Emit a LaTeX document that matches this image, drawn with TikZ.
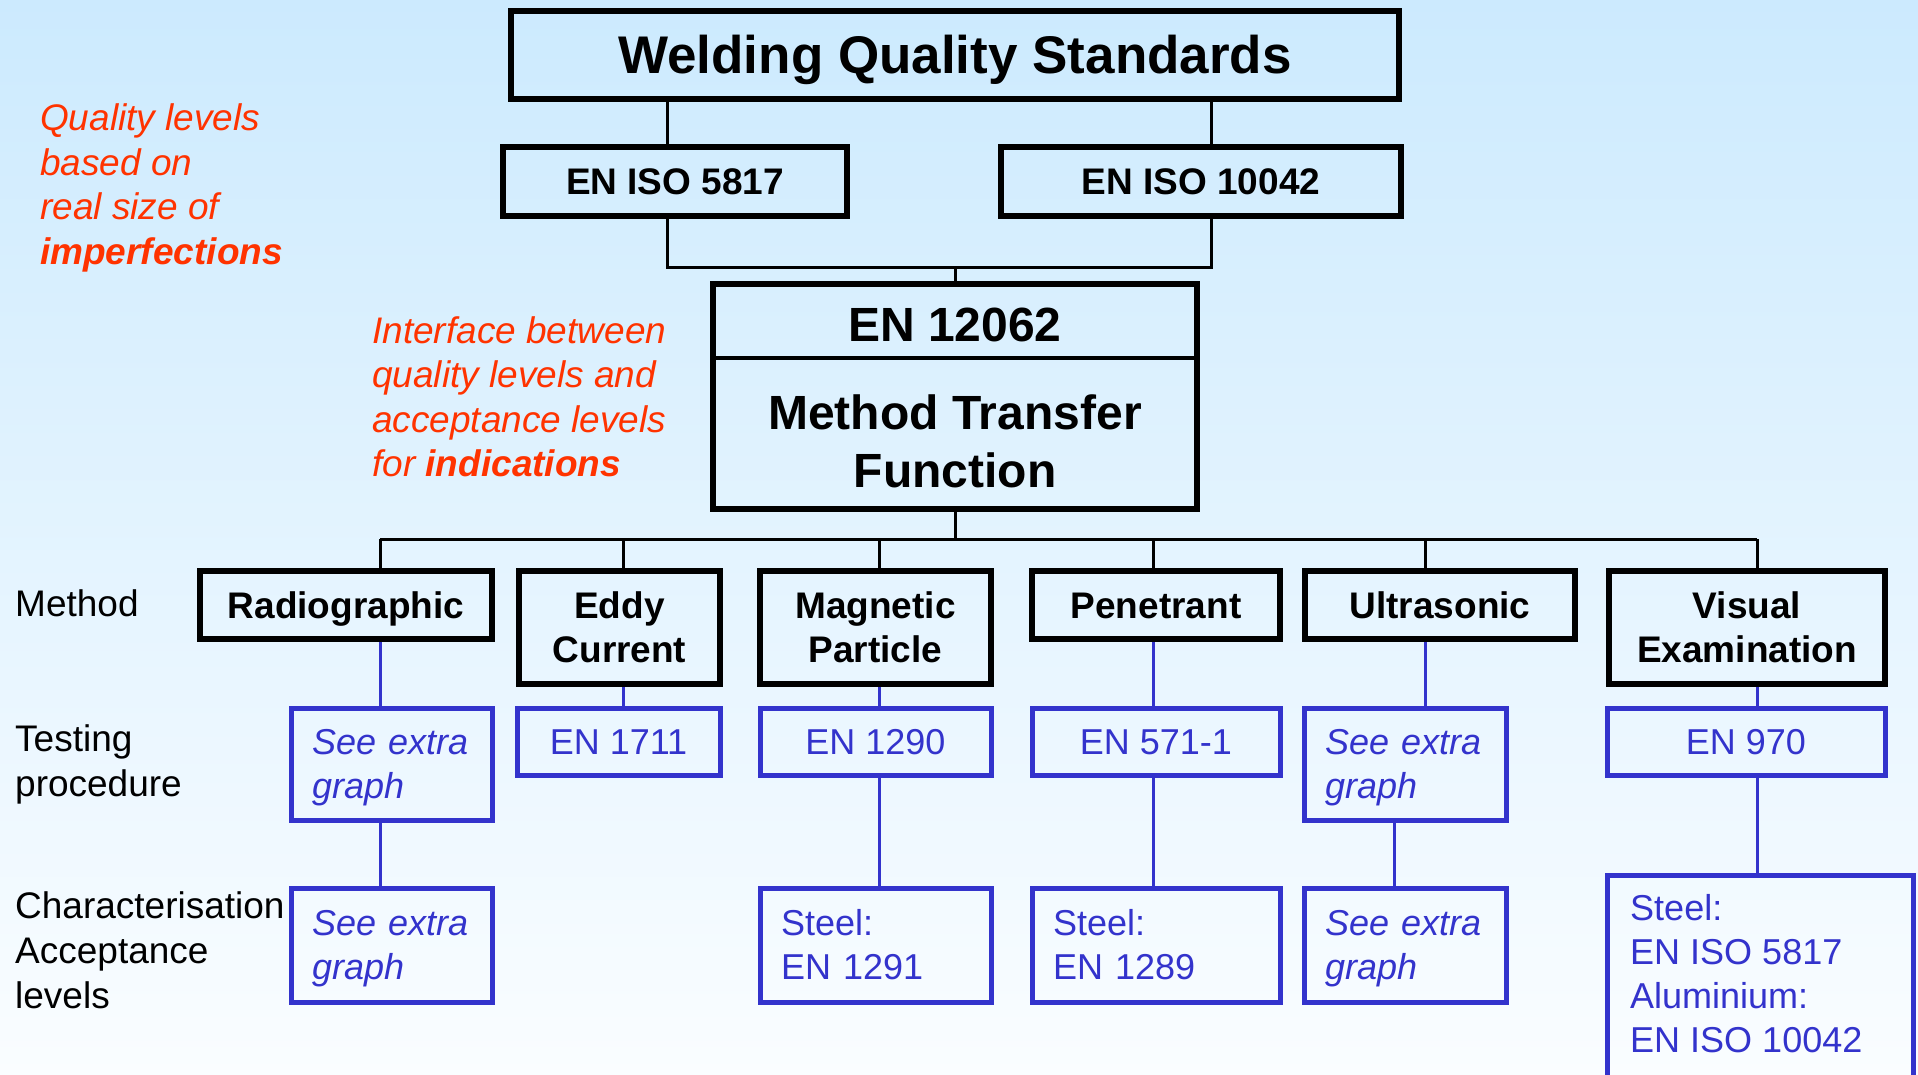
\documentclass[tikz,border=0pt]{standalone}
\usepackage{fontspec}
\setmainfont{Liberation Sans}
\usetikzlibrary{calc}
\definecolor{bgtop}{HTML}{CCEAFE}
\definecolor{bgbot}{HTML}{FAFDFF}
\definecolor{myblue}{HTML}{3333CC}
\definecolor{myred}{HTML}{FF3300}
\newcommand{\nodepth}[1]{\raisebox{0pt}[\height][0pt]{#1}}
\begin{document}
\begin{tikzpicture}[x=1pt,y=-1pt,
  blkbox/.style={draw=black, line width=6pt, inner sep=0pt, font=\bfseries\fontsize{37}{44.5}\selectfont, align=center},
  onecap/.style={text height=26.5pt, text depth=0pt},
  bluebox/.style={draw=myblue, line width=5pt, inner ysep=0pt, inner xsep=21pt, text=myblue, font=\fontsize{36}{44}\selectfont, align=left},
  bluecap/.style={bluebox, align=center, text height=25.8pt, text depth=0pt},
  seeex/.style={bluebox, font=\itshape\fontsize{36}{44}\selectfont},
  blkline/.style={line width=3pt, draw=black},
  blueline/.style={line width=3pt, draw=myblue},
  lbl/.style={inner sep=0pt, font=\fontsize{37}{45}\selectfont, align=left},
  note/.style={inner sep=0pt, text=myred, font=\itshape\fontsize{37}{44.6}\selectfont, align=left}
]
\useasboundingbox (0,0) rectangle (1918,1075);
\clip (0,0) rectangle (1918,1075);
\fill[top color=bgtop, bottom color=bgbot] (0,0) rectangle (1918,1075);

% top part
\node[blkbox, minimum width=888, minimum height=88, font=\bfseries\fontsize{53}{60}\selectfont, text height=38pt, text depth=0pt] (title) at (955,55) {Welding Quality Standards};
\node[blkbox, onecap, minimum width=344, minimum height=69] (iso5817) at (675,181.5) {EN ISO 5817};
\node[blkbox, onecap, minimum width=400, minimum height=69] (iso10042) at (1201,181.5) {EN ISO 10042};
\node[blkbox, minimum width=484, minimum height=225] (mtf) at (955,396.5) {};
\node[inner sep=0pt, font=\bfseries\fontsize{48}{58}\selectfont, text height=34.5pt, text depth=0pt] (t12062) at (955,324.5) {EN 12062};
\node[inner sep=0pt, font=\bfseries\fontsize{48}{58}\selectfont, align=center] (tmtf) at (955,441) {Method Transfer\\Function};
\draw[line width=3.5pt] (mtf.west |- 0,358) -- (mtf.east |- 0,358);

\coordinate (j1) at (667.5,267);
\coordinate (j2) at (1211,267);
\coordinate (j0) at (955,267);
\draw[blkline] (title.south -| j1) -- (iso5817.north -| j1);
\draw[blkline] (title.south -| j2) -- (iso10042.north -| j2);
\draw[blkline] (iso5817.south -| j1) -- (j1) -- (j2) -- (iso10042.south -| j2);
\draw[blkline] (j0) -- (mtf.north);

% notes
\node[note, anchor=north west] (n1) at (40,103.6) {Quality levels\\based on\\real size of\\\textbf{imperfections}};
\node[note, anchor=north west] (n2) at (372,316) {Interface between\\quality levels and\\acceptance levels\\for \textbf{indications}};

% row labels
\node[lbl, anchor=base west] (mlab) at (15,616) {Method};
\node[lbl, anchor=north west] (tlab) at (15,724.5) {Testing\\procedure};
\node[lbl, anchor=north west] (clab) at (15,891) {Characterisation\\Acceptance\\levels};

% method boxes
\node[blkbox, onecap, minimum width=292, minimum height=68] (rad) at (346,605) {Radiographic};
\node[blkbox, minimum width=201, minimum height=113] (eddy) at (619.5,627.5) {Eddy\\Current};
\node[blkbox, minimum width=231, minimum height=113] (mag) at (875.5,627.5) {Magnetic\\Particle};
\node[blkbox, onecap, minimum width=248, minimum height=68] (pen) at (1156,605) {Penetrant};
\node[blkbox, onecap, minimum width=270, minimum height=68] (ult) at (1440,605) {Ultrasonic};
\node[blkbox, minimum width=276, minimum height=113] (vis) at (1747,627.5) {Visual\\Examination};

% bus
\coordinate (b1) at (380,539);
\coordinate (b2) at (623,539);
\coordinate (b3) at (879,539);
\coordinate (b4) at (1153,539);
\coordinate (b5) at (1425,539);
\coordinate (b6) at (1757,539);
\coordinate (ux) at (1394.5,850);
\draw[blkline] (mtf.south) -- (mtf.south |- b1);
\draw[blkline] (b1) -- (b6);
\draw[blkline] (b1) -- (b1 |- rad.north);
\draw[blkline] (b2) -- (b2 |- eddy.north);
\draw[blkline] (b3) -- (b3 |- mag.north);
\draw[blkline] (b4) -- (b4 |- pen.north);
\draw[blkline] (b5) -- (b5 |- ult.north);
\draw[blkline] (b6) -- (b6 |- vis.north);

% testing procedure boxes
\node[seeex, text width=159pt, minimum height=112] (radtp) at (391.5,764) {See extra\\\nodepth{graph}};
\node[bluecap, minimum width=203, minimum height=67] (eddytp) at (618.5,741.5) {EN 1711};
\node[bluecap, minimum width=231, minimum height=67] (magtp) at (875.5,741.5) {EN 1290};
\node[bluecap, minimum width=248, minimum height=67] (pentp) at (1156,741.5) {EN 571-1};
\node[seeex, text width=160pt, minimum height=112] (ulttp) at (1405,764) {See extra\\\nodepth{graph}};
\node[bluecap, minimum width=278, minimum height=67] (vistp) at (1746,741.5) {EN 970};

% acceptance boxes
\node[seeex, text width=159pt, minimum height=114] (radal) at (391.5,945) {See extra\\\nodepth{graph}};
\node[bluebox, text width=189pt, minimum height=114] (magal) at (875.5,945) {Steel:\\EN 1291};
\node[bluebox, text width=206pt, minimum height=114] (penal) at (1156,945) {Steel:\\EN 1289};
\node[seeex, text width=160pt, minimum height=114] (ultal) at (1405,945) {See extra\\\nodepth{graph}};
\node[draw=myblue, line width=5pt, inner sep=0pt, minimum width=306, minimum height=300, anchor=north] (visal) at (1760,873) {};
\node[inner sep=0pt, text=myblue, font=\fontsize{36}{44}\selectfont, align=left, anchor=north west] (visaltext) at (1630,894.5) {Steel:\\EN ISO 5817\\Aluminium:\\EN ISO 10042};

% blue connectors
\draw[blueline] (rad.south -| b1) -- (radtp.north -| b1);
\draw[blueline] (eddy.south -| b2) -- (eddytp.north -| b2);
\draw[blueline] (mag.south -| b3) -- (magtp.north -| b3);
\draw[blueline] (pen.south -| b4) -- (pentp.north -| b4);
\draw[blueline] (ult.south -| b5) -- (ulttp.north -| b5);
\draw[blueline] (vis.south -| b6) -- (vistp.north -| b6);
\draw[blueline] (radtp.south -| b1) -- (radal.north -| b1);
\draw[blueline] (magtp.south -| b3) -- (magal.north -| b3);
\draw[blueline] (pentp.south -| b4) -- (penal.north -| b4);
\draw[blueline] (ulttp.south -| ux) -- (ultal.north -| ux);
\draw[blueline] (vistp.south -| b6) -- (visal.north -| b6);
\end{tikzpicture}
\end{document}
